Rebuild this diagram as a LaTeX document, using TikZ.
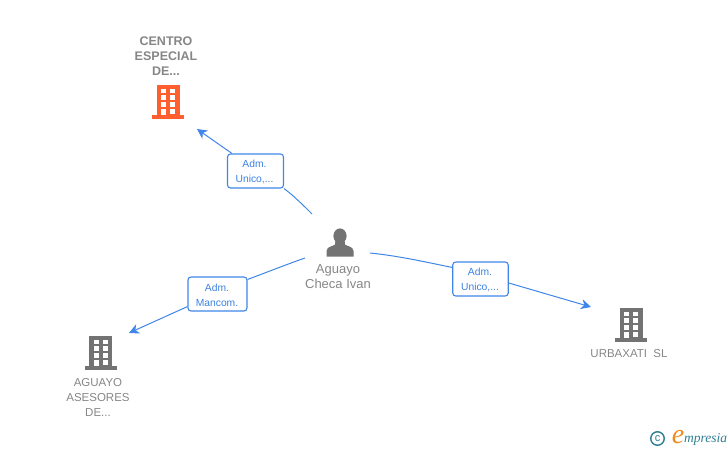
\documentclass[tikz,border=0pt]{standalone}
\usepackage{fontspec}
\setmainfont{Liberation Sans}
\newfontfamily\logofont{Liberation Serif}
\usetikzlibrary{arrows.meta}
\definecolor{edgeblue}{HTML}{3F86E8}
\definecolor{labelblue}{HTML}{3C82E0}
\definecolor{greytext}{HTML}{868686}
\definecolor{icongrey}{HTML}{737373}
\definecolor{iconorange}{HTML}{FF5F2E}
\definecolor{logoteal}{HTML}{2F7F93}
\definecolor{logoorange}{HTML}{F08A1D}
\tikzset{
  edgeline/.style={draw=edgeblue,line width=1pt},
  arrowline/.style={edgeline,-{Stealth[length=10pt,width=10pt,inset=3pt]}},
  edgelabel/.style={draw=edgeblue,line width=1.1pt,rounded corners=3pt,fill=white,inner sep=0pt},
  labeltext/.style={text=labelblue,font=\fontsize{10.3}{15}\selectfont,align=center,inner sep=0pt},
  nodetext/.style={text=greytext,font=\fontsize{11.5}{15}\selectfont,align=center,inner sep=0pt},
  persontext/.style={text=greytext,font=\fontsize{13}{15}\selectfont,align=center,inner sep=0pt},
  boldtext/.style={text=greytext,font=\fontsize{12.5}{15}\selectfont\bfseries,align=center,inner sep=0pt},
  iconbox/.style={inner sep=0pt,minimum width=32pt,minimum height=34pt},
  pics/building/.style={code={
    \fill[#1] (-11.5,0) rectangle (11.5,30);
    \fill[#1] (-16,30) rectangle (16,33.5);
    \foreach \yy in {3.5,10.3,17}{
      \fill[white] (-7,\yy) rectangle (-2,\yy+4.6);
      \fill[white] (2,\yy) rectangle (7,\yy+4.6);
    }
    \fill[white] (-7,24) rectangle (-2,30);
    \fill[white] (2,24) rectangle (7,28.5);
  }}
}
\begin{document}
\begin{tikzpicture}[x=1pt,y=-1pt]
\useasboundingbox (0,0) rectangle (728,450);
% icons
\node[iconbox] (centroicon) at (168,102) {};
\pic at (168,85) {building=iconorange};
\node[iconbox] (urbaicon) at (631,325) {};
\pic at (631,308) {building=icongrey};
\node[iconbox] (aguayoicon) at (100.5,353) {};
\pic at (100.5,336) {building=icongrey};
\node[iconbox,minimum width=28pt,minimum height=28pt] (personicon) at (340,243) {};
\fill[icongrey] (340,236) ellipse (6.6 and 7.6);
\fill[icongrey] (335.5,240) -- (344.5,240) -- (345,244.5)
  .. controls (347,246.5) and (353,246) .. (353.5,251) -- (353.5,256.5) -- (326.5,256.5) -- (326.5,251)
  .. controls (327,246) and (333,246.5) .. (335,244.5) -- cycle;
% texts
\node[boldtext] (centrotext) at (166,56) {CENTRO\\ESPECIAL\\DE...};
\node[nodetext] (urbatext) at (629,354) {URBAXATI\ \ SL};
\node[nodetext] (aguayotext) at (98,397) {AGUAYO\\ASESORES\\DE...};
\node[persontext] (persontext) at (338,277) {Aguayo\\Checa Ivan};
% labels
\node[edgelabel,minimum width=56pt,minimum height=34pt] (lab1) at (255.5,171) {};
\node[labeltext] (lab1t) at (254.5,172) {Adm.\hspace{6pt}\\Unico,...};
\node[edgelabel,minimum width=59pt,minimum height=34pt] (lab2) at (217.5,294) {};
\node[labeltext] (lab2t) at (217,295) {Adm.\hspace{5pt}\\Mancom.};
\node[edgelabel,minimum width=55.5pt,minimum height=34pt] (lab3) at (480.5,279) {};
\node[labeltext] (lab3t) at (480,280) {Adm.\hspace{5pt}\\Unico,...};
% free ends
\coordinate (p1) at (312,214);
\coordinate (p2) at (305,258);
\coordinate (p3) at (370,253);
\coordinate (t1) at (197,129);
\coordinate (t2) at (129,333);
\coordinate (t3) at (591,307);
% connectors
\draw[edgeline] (lab1.south east) .. controls (294,196) and (303,205) .. (p1);
\draw[arrowline] (lab1.north west) ++(5,0) -- (t1);
\draw[edgeline] (lab2.north east) ++(0,3) .. controls (265,273) and (285,265) .. (p2);
\draw[arrowline] (lab2.south west) ++(0,-5) -- (t2);
\draw[edgeline] (lab3.north west) ++(0,6) .. controls (430,263) and (400,256) .. (p3);
\draw[arrowline] (lab3.east) ++(0,4) -- (t3);
% logo
\node[circle,draw=logoteal,line width=1.4pt,minimum size=13.5pt,inner sep=0pt,text=logoteal,font=\fontsize{11}{11}\selectfont] (copyr) at (657.5,438.5) {c};
\node[text=logoorange,font=\logofont\itshape\fontsize{28}{28}\selectfont,inner sep=0pt] (logoe) at (678,437) {e};
\node[text=logoteal,font=\logofont\itshape\fontsize{13.5}{13.5}\selectfont,inner sep=0pt,anchor=west] (logotext) at (684,439) {mpresia};
\end{tikzpicture}
\end{document}
